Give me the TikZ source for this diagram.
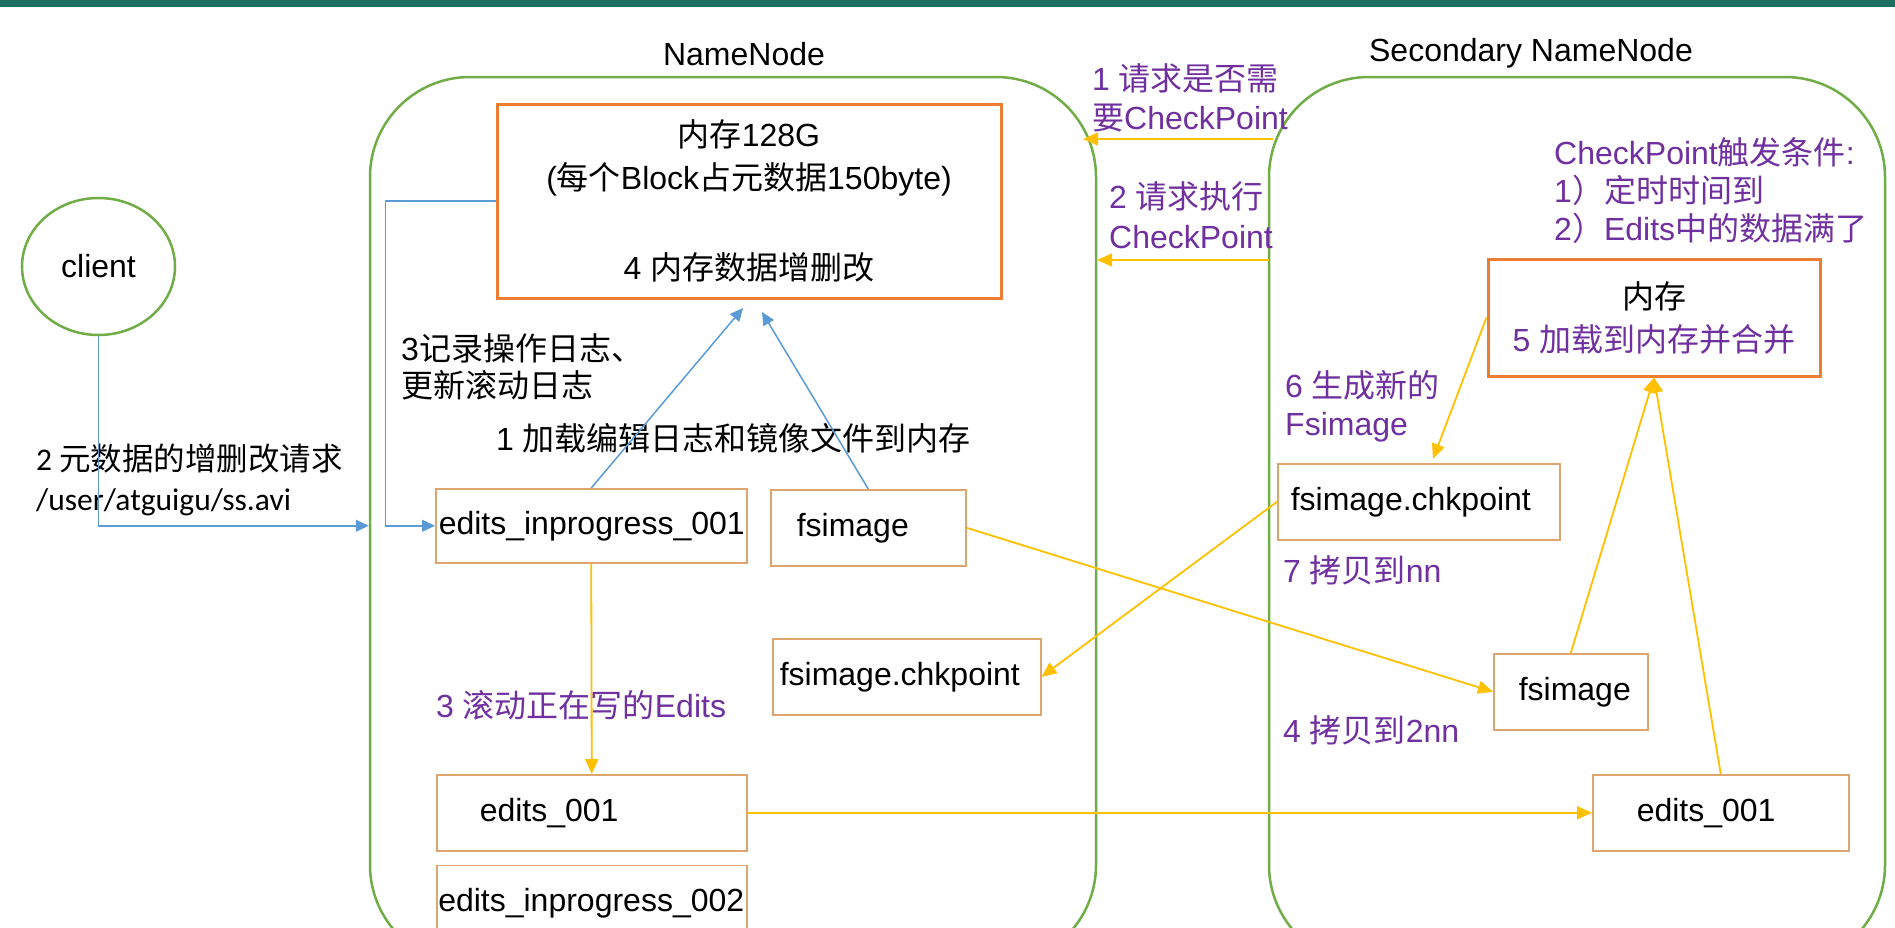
\documentclass[tikz,border=0pt]{standalone}
\usepackage{fontspec}
\setmainfont{Liberation Sans}
\newfontfamily\zhfont{Noto Sans CJK SC}
\newfontfamily\calfont{Carlito}
\newcommand{\zw}[1]{{\zhfont #1}}
\usetikzlibrary{arrows.meta, positioning, shapes.geometric}

\definecolor{nngreen}{RGB}{112,173,71}
\definecolor{memorange}{RGB}{237,125,49}
\definecolor{filebrown}{RGB}{222,165,110}
\definecolor{flowblue}{RGB}{91,155,213}
\definecolor{copyyellow}{RGB}{255,192,0}
\definecolor{stepviolet}{RGB}{112,48,160}
\definecolor{barteal}{RGB}{30,110,100}

\tikzset{
  group/.style={draw=nngreen, line width=2.5pt, rounded corners=100pt},
  memory/.style={draw=memorange, line width=3pt, align=center},
  file/.style={draw=filebrown, line width=1.5pt, anchor=north west, minimum height=76pt, align=left, inner ysep=0pt},
  note/.style={text=stepviolet, align=left, anchor=west, inner sep=0pt},
  blacktext/.style={align=left, anchor=west, inner sep=0pt},
  flowarrow/.style={draw=flowblue, line width=1.5pt, -{Triangle[length=13pt,width=12pt]}},
  copyarrow/.style={draw=copyyellow, line width=1.8pt, -{Triangle[length=15pt,width=13pt]}},
}

\begin{document}
\begin{tikzpicture}[x=1pt, y=-1pt, node distance=13pt, font=\fontsize{32}{38}\selectfont]
    \useasboundingbox (0,0) rectangle (1895,927);
    \clip (0,0) rectangle (1895,927);
    \fill[white] (0,0) rectangle (1895,927);
    \fill[barteal] (0,0) rectangle (1895,7);

    % the two servers
    \node[group, minimum width=726pt, minimum height=888pt] (nn) at (733,521) {};
    \node[group, minimum width=616pt, minimum height=888pt] (snn) at (1577,521) {};
    \node[blacktext, anchor=center] (nntitle) at (744,54) {NameNode};
    \node[blacktext, anchor=center] (snntitle) at (1531,53) {Secondary NameNode};

    \node[draw=nngreen, line width=2.5pt, ellipse, minimum width=153pt, minimum height=137pt] (client) at (98.5,266.5) {client};

    % memory boxes
    \node[memory, minimum width=504pt, minimum height=194pt, font=\fontsize{32}{43}\selectfont] (mem) at (749,201)
        {\zw{内存}128G\\(\zw{每个}Block\zw{占元数据}150byte)\\[47pt]4 \zw{内存数据增删改}};
    \node[memory, minimum width=332pt, minimum height=117pt, font=\fontsize{32}{43}\selectfont] (mem2) at (1654,317.5)
        {\zw{内存}\\\textcolor{stepviolet}{5 \zw{加载到内存并合并}}};

    % files on the NameNode
    \node[file, minimum height=74pt, inner xsep=3pt, text width=305pt] (ei1) at (435,488) {edits\_inprogress\_001};
    \node[file, inner xsep=26pt, text width=143pt] (fs1) at (770,489) {fsimage};
    \node[file, inner xsep=7pt, text width=254pt] (ck1) at (772,638) {fsimage.chkpoint};
    \node[file, inner xsep=43pt, text width=224pt] (e1) at (436,774) {edits\_001};
    \node[file, inner xsep=1.5pt, text width=307pt, below=13pt of e1] (ei2) {edits\_inprogress\_002};

    % files on the Secondary NameNode
    \node[file, inner xsep=13pt, text width=256pt] (ck2) at (1277,463) {fsimage.chkpoint};
    \node[file, inner xsep=25pt, text width=104pt] (fs2) at (1493,653) {fsimage};
    \node[file, inner xsep=44pt, text width=168pt] (e2) at (1592,774) {edits\_001};

    \coordinate (memin1) at (743,308);
    \coordinate (memin2) at (762,312);
    \coordinate (ckin) at (1433,459);
    \coordinate (ask) at (1273,139);
    \coordinate (askto) at (1083,139);
    \coordinate (run) at (1269,260);
    \coordinate (runto) at (1097,260);

    % labels
    \node[note, font=\fontsize{32}{39}\selectfont] (asknote) at (1092,97.5) {1 \zw{请求是否需}\\\zw{要}CheckPoint};
    \node[note, font=\fontsize{32}{40}\selectfont] (runnote) at (1109,215) {2 \zw{请求执行}\\CheckPoint};
    \node[note, font=\fontsize{32}{38}\selectfont] (condnote) at (1554,191)
        {CheckPoint\zw{触发条件}:\\1\zw{）定时时间到}\\2\zw{）}Edits\zw{中的数据满了}};
    \node[note] (gennote) at (1285,406) {6 \zw{生成新的}\\Fsimage};
    \node[note] (nnnote) at (1283,570) {7 \zw{拷贝到}nn};
    \node[note] (snnnote) at (1283,730) {4 \zw{拷贝到}2nn};
    \node[note] (rollnote) at (436,705) {3 \zw{滚动正在写的}Edits};
    \node[blacktext, font=\fontsize{32}{37}\selectfont] (lognote) at (401,366.5) {3\zw{记录操作日志、}\\\zw{更新滚动日志}};
    \node[blacktext] (loadnote) at (496,438) {1 \zw{加载编辑日志和镜像文件到内存}};
    \node[blacktext, font=\calfont\fontsize{31.5}{40}\selectfont] (reqnote) at (36,480) {2 \zw{元数据的增删改请求}\\/user/atguigu/ss.avi};

    % connectors
    \draw[flowarrow] (client.south) |- (ei1 -| nn.west);
    \draw[flowarrow] (mem.west) -- ++(-110,0) |- (ei1.west);
    \draw[flowarrow] (ei1.north) -- (memin1);
    \draw[flowarrow] (fs1.north) -- (memin2);

    \draw[copyarrow] (ask) -- (askto);
    \draw[copyarrow] (run) -- (runto);
    \draw[copyarrow] (ei1.south) -- (e1.north);
    \draw[copyarrow] (fs1.east) -- (fs2.west);
    \draw[copyarrow] (ck2.west) -- (ck1.east);
    \draw[copyarrow] (e1.east) -- (e2.west);
    \draw[copyarrow] (fs2.north) -- (mem2.south);
    \draw[copyarrow] (e2.north) -- (mem2.south);
    \draw[copyarrow] (mem2.west) -- (ckin);
\end{tikzpicture}
\end{document}
